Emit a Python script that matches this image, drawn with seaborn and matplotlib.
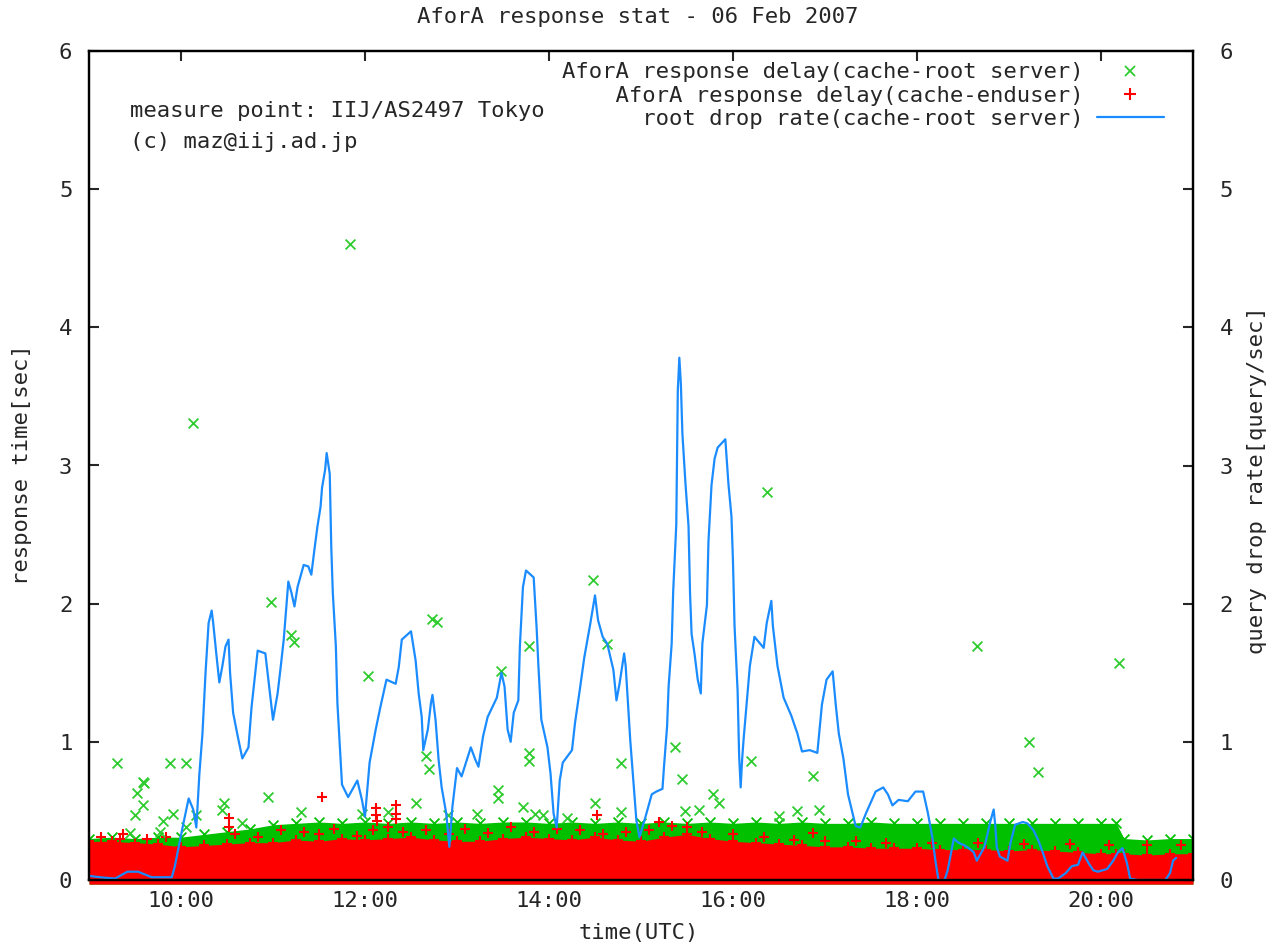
import numpy as np
import pandas as pd
import matplotlib
matplotlib.use("Agg")
import matplotlib.pyplot as plt
import matplotlib.dates as mdates
from matplotlib.lines import Line2D
import seaborn as sns

# ---------------- data (minutes after 09:00 UTC, 06 Feb 2007) ----------------
BASE = pd.Timestamp("2007-02-06 09:00")

# root drop rate (cache-root server) [query/sec]
drop_min = [0, 7, 17, 25, 32, 41, 54, 56, 61, 65, 68, 70, 72, 74, 76, 78, 80, 81, 83, 85,
            87, 89, 91, 92, 94, 97, 100, 104, 106, 110, 115, 117, 120, 123, 125, 127, 130,
            132, 134, 136, 140, 143, 145, 147, 149, 151, 152, 154, 155, 157, 158, 159, 161,
            162, 164, 165, 169, 172, 175, 178, 180, 183, 187, 190, 192, 194, 200, 202, 204,
            210, 213, 215, 217, 218, 221, 223, 224, 226, 228, 230, 233, 235, 237, 240, 243,
            249, 252, 254, 257, 260, 266, 269, 271, 273, 275, 277, 280, 281, 283, 285, 290,
            292, 293, 295, 299, 301, 303, 305, 307, 309, 315, 317, 320, 323, 327, 330, 332,
            335, 338, 342, 344, 346, 349, 350, 353, 355, 357, 359, 363, 367, 370, 374, 375,
            377, 378, 380, 381, 383, 384, 385, 386, 387, 389, 391, 392, 393, 395, 397, 399,
            400, 403, 404, 406, 408, 410, 415, 417, 419, 420, 421, 423, 424, 425, 426, 427,
            429, 431, 434, 440, 442, 445, 446, 449, 453, 458, 462, 465, 470, 475, 478, 481,
            485, 487, 489, 492, 495, 500, 503, 507, 513, 518, 521, 524, 528, 534, 539, 544,
            547, 550, 552, 554, 558, 560, 563, 564, 567, 571, 575, 577, 579, 581, 584, 588,
            590, 591, 592, 594, 599, 601, 604, 609, 612, 616, 619, 622, 625, 629, 632, 637,
            641, 645, 648, 652, 655, 658, 664, 668, 671, 674, 677, 679, 684, 702, 705, 707, 709]
drop_rate = [0.03, 0.02, 0.01, 0.06, 0.06, 0.02, 0.02, 0.10, 0.38, 0.59, 0.51, 0.38, 0.77, 1.06,
             1.50, 1.86, 1.95, 1.86, 1.64, 1.43, 1.55, 1.69, 1.74, 1.50, 1.21, 1.04, 0.88, 0.96,
             1.25, 1.66, 1.64, 1.45, 1.16, 1.35, 1.54, 1.74, 2.16, 2.08, 1.98, 2.12, 2.28, 2.27,
             2.21, 2.39, 2.56, 2.70, 2.84, 2.97, 3.09, 2.94, 2.41, 2.08, 1.69, 1.28, 0.89, 0.69,
             0.60, 0.66, 0.72, 0.58, 0.46, 0.85, 1.09, 1.25, 1.35, 1.45, 1.42, 1.54, 1.74, 1.80,
             1.59, 1.35, 1.18, 0.94, 1.09, 1.28, 1.34, 1.16, 0.87, 0.67, 0.48, 0.24, 0.53, 0.81,
             0.75, 0.96, 0.87, 0.82, 1.04, 1.18, 1.32, 1.50, 1.40, 1.09, 1.00, 1.21, 1.30, 1.69,
             2.12, 2.24, 2.19, 1.81, 1.57, 1.16, 0.96, 0.77, 0.48, 0.38, 0.72, 0.85, 0.94, 1.14,
             1.37, 1.61, 1.86, 2.06, 1.88, 1.76, 1.71, 1.52, 1.30, 1.42, 1.64, 1.55, 1.01, 0.72,
             0.43, 0.31, 0.46, 0.62, 0.64, 0.66, 0.82, 1.11, 1.40, 1.71, 2.09, 2.57, 3.54, 3.78,
             3.59, 3.23, 2.87, 2.56, 2.07, 1.78, 1.63, 1.45, 1.35, 1.71, 1.99, 2.45, 2.86, 3.05,
             3.13, 3.19, 2.87, 2.63, 2.30, 1.84, 1.37, 0.90, 0.67, 0.88, 1.03, 1.29, 1.55, 1.76,
             1.68, 1.86, 2.02, 1.84, 1.55, 1.32, 1.19, 1.06, 0.93, 0.94, 0.92, 1.27, 1.45, 1.51,
             1.27, 1.06, 0.88, 0.62, 0.39, 0.38, 0.49, 0.64, 0.67, 0.62, 0.54, 0.58, 0.57, 0.64,
             0.64, 0.49, 0.31, 0.14, 0.00, 0.00, 0.07, 0.24, 0.30, 0.27, 0.25, 0.22, 0.20, 0.14,
             0.18, 0.24, 0.43, 0.51, 0.40, 0.24, 0.17, 0.14, 0.27, 0.40, 0.42, 0.41, 0.36, 0.29,
             0.20, 0.10, 0.01, 0.01, 0.05, 0.10, 0.11, 0.20, 0.12, 0.07, 0.06, 0.08, 0.14, 0.20,
             0.23, 0.12, 0.01, 0.00, 0.00, 0.05, 0.14, 0.16]

# upper edge of the dense band of response delays [sec]
band_min = [0, 15, 30, 45, 60, 75, 90, 105, 120, 135, 150, 165, 180, 195, 210, 225, 240, 255,
            270, 285, 300, 315, 330, 345, 360, 375, 390, 405, 420, 435, 450, 465, 480, 495,
            510, 525, 540, 555, 570, 585, 600, 615, 630, 645, 660, 670, 675, 690, 705, 720]
root_band = [0.30, 0.31, 0.30, 0.31, 0.31, 0.33, 0.35, 0.37, 0.40, 0.41, 0.42, 0.41, 0.42,
             0.41, 0.42, 0.41, 0.42, 0.41, 0.42, 0.42, 0.41, 0.42, 0.41, 0.42, 0.41, 0.42,
             0.41, 0.42, 0.41, 0.42, 0.41, 0.42, 0.41, 0.41, 0.42, 0.41, 0.41, 0.41, 0.41,
             0.41, 0.41, 0.41, 0.41, 0.41, 0.41, 0.41, 0.30, 0.29, 0.30, 0.30]
user_band = [0.28, 0.28, 0.27, 0.26, 0.24, 0.25, 0.26, 0.27, 0.27, 0.29, 0.28, 0.30, 0.29,
             0.30, 0.31, 0.29, 0.28, 0.28, 0.30, 0.31, 0.30, 0.29, 0.31, 0.29, 0.28, 0.31,
             0.33, 0.30, 0.28, 0.27, 0.26, 0.25, 0.24, 0.24, 0.23, 0.23, 0.23, 0.22, 0.22,
             0.22, 0.21, 0.22, 0.21, 0.20, 0.19, 0.19, 0.19, 0.18, 0.19, 0.19]

# scattered end-user answers just above the solid red band [sec]
user_edge_min = [8, 22, 38, 50, 95, 110, 125, 140, 150, 160, 175, 185, 195, 205, 220, 235,
                 245, 260, 275, 290, 305, 320, 335, 350, 365, 380, 390, 400, 420, 440, 460,
                 480, 500, 520, 550, 580, 610, 640, 665, 690, 712]
user_edge_val = [0.31, 0.33, 0.30, 0.31, 0.33, 0.31, 0.36, 0.35, 0.33, 0.37, 0.32, 0.36, 0.38,
                 0.35, 0.36, 0.33, 0.37, 0.34, 0.38, 0.35, 0.37, 0.36, 0.33, 0.35, 0.36, 0.39,
                 0.38, 0.35, 0.33, 0.31, 0.29, 0.28, 0.28, 0.27, 0.27, 0.27, 0.26, 0.26, 0.25,
                 0.25, 0.25]

# isolated slow answers, cache -> root server [sec]
root_out_min = [18, 27, 30, 31, 35, 35, 36, 46, 48, 53, 55, 63, 63, 68, 70, 87, 88, 100, 117,
                119, 132, 134, 138, 170, 178, 182, 195, 213, 220, 222, 224, 227, 234, 253, 267,
                267, 269, 283, 287, 287, 287, 291, 296, 312, 329, 330, 338, 347, 347, 382, 387,
                389, 398, 407, 411, 432, 442, 450, 462, 472, 476, 579, 613, 619, 672]
root_out_val = [0.85, 0.34, 0.47, 0.63, 0.54, 0.71, 0.70, 0.35, 0.43, 0.85, 0.48, 0.85, 0.38,
                3.31, 0.47, 0.51, 0.56, 0.41, 0.60, 2.01, 1.77, 1.72, 0.49, 4.60, 0.48, 1.48,
                0.49, 0.56, 0.90, 0.80, 1.89, 1.87, 0.47, 0.48, 0.65, 0.59, 1.51, 0.53, 0.92,
                0.86, 1.69, 0.48, 0.47, 0.45, 2.17, 0.56, 1.71, 0.85, 0.49, 0.96, 0.73, 0.50,
                0.51, 0.62, 0.56, 0.86, 2.81, 0.46, 0.50, 0.75, 0.51, 1.69, 1.00, 0.78, 1.57]

# isolated slow answers, cache -> end user [sec]
user_out_min = [20, 91, 91, 152, 187, 187, 188, 200, 200, 200, 331, 372, 472]
user_out_val = [0.30, 0.45, 0.38, 0.60, 0.52, 0.47, 0.43, 0.54, 0.48, 0.44, 0.47, 0.42, 0.34]

TITLE = "AforA response stat - 06 Feb 2007"
LABELS = ["AforA response delay(cache-root server)",
          "AforA response delay(cache-enduser)",
          "root drop rate(cache-root server)"]
NOTES = ["measure point: IIJ/AS2497 Tokyo", "(c) maz@iij.ad.jp"]

# ---------------- styling ----------------
GREEN = "#00c000"
GREEN_PT = "#2ecc2e"
RED = "#ff0000"
BLUE = "#1a8cff"
FS = 16

sns.set_style("white")
plt.rcParams["font.family"] = ["DejaVu Sans Mono", "DejaVu Sans"]
plt.rcParams["font.size"] = FS

def t(mins):
    return BASE + pd.to_timedelta(np.asarray(mins, dtype=float), unit="min")

fig = plt.figure(figsize=(12.7, 9.46), dpi=100)
W, H = 1270, 946
L, R, T, B = 89, 1193, 51, 880
ax = fig.add_axes([L / W, 1 - B / H, (R - L) / W, (B - T) / H])

# dense bands
bt = t(band_min)
ax.fill_between(bt, -0.03, root_band, color=GREEN, lw=0, clip_on=False, zorder=1)
sns.scatterplot(x=bt, y=root_band, marker="x", color=GREEN, s=50, linewidth=1.3, ax=ax, zorder=1.5)
ax.fill_between(bt, -0.03, user_band, color=RED, lw=0, clip_on=False, zorder=2)
sns.scatterplot(x=bt, y=user_band, marker="+", color=RED, s=60, linewidth=1.5, ax=ax, zorder=2.5)
sns.scatterplot(x=t(user_edge_min), y=user_edge_val, marker="+", color=RED, s=60,
                linewidth=1.5, ax=ax, zorder=2.5)

# outliers
sns.scatterplot(x=t(root_out_min), y=root_out_val, marker="x", color=GREEN_PT, s=50,
                linewidth=1.3, ax=ax, zorder=3)
sns.scatterplot(x=t(user_out_min), y=user_out_val, marker="+", color=RED, s=60,
                linewidth=1.5, ax=ax, zorder=3)

ax.set_ylim(0, 6)
ax.set_xlim(BASE, BASE + pd.Timedelta(hours=12))

ax2 = ax.twinx()
sns.lineplot(x=t(drop_min), y=drop_rate, color=BLUE, lw=1.6, ax=ax2)
ax2.set_ylim(0, 6)
ax2.set_xlim(BASE, BASE + pd.Timedelta(hours=12))

ax.xaxis.set_major_locator(mdates.HourLocator(byhour=[10, 12, 14, 16, 18, 20]))
ax.xaxis.set_major_formatter(mdates.DateFormatter("%H:%M"))
ax.set_yticks(range(0, 7))
ax2.set_yticks(range(0, 7))

for a in (ax, ax2):
    for sp in a.spines.values():
        sp.set_linewidth(1.6)
        sp.set_color("black")
        sp.set_visible(True)
    a.set_xlabel("")
    a.set_ylabel("")

ax.tick_params(axis="x", direction="in", length=7, width=1.5, top=True, bottom=True,
               pad=8, labelsize=FS)
ax.tick_params(axis="y", direction="in", length=7, width=1.5, left=True, right=False,
               pad=12, labelsize=FS)
ax2.tick_params(axis="y", direction="in", length=7, width=1.5, right=True, left=False,
                pad=19, labelsize=FS)

# texts
fig.text(638 / W, 1 - 17 / H, TITLE, ha="center", va="center", fontsize=FS)
fig.text(639 / W, 1 - 933 / H, "time(UTC)", ha="center", va="center", fontsize=FS)
fig.text(22 / W, 1 - 465 / H, "response time[sec]", rotation=90, ha="center", va="center",
         fontsize=FS)
fig.text(1257 / W, 1 - 480 / H, "query drop rate[query/sec]", rotation=90, ha="center",
         va="center", fontsize=FS)
ax2.text((130 - L) / (R - L), (B - 111) / (B - T), NOTES[0], transform=ax2.transAxes,
         ha="left", va="center", fontsize=FS)
ax2.text((130 - L) / (R - L), (B - 142) / (B - T), NOTES[1], transform=ax2.transAxes,
         ha="left", va="center", fontsize=FS)

# legend (text right aligned, symbol on the right)
n = max(len(s) for s in LABELS)
labels = [s.rjust(n) for s in LABELS]
handles = [Line2D([], [], ls="none", marker="x", color=GREEN_PT, markersize=7, mew=1.3),
           Line2D([], [], ls="none", marker="+", color=RED, markersize=8, mew=1.5),
           Line2D([], [], color=BLUE, lw=1.6)]
leg = ax2.legend(handles, labels, loc="upper right", frameon=False, markerfirst=False,
                 handlelength=3.0, handletextpad=0.6, labelspacing=0.14, borderpad=0.2,
                 borderaxespad=0.0, bbox_to_anchor=((1168 - L) / (R - L), (B - 58) / (B - T)),
                 fontsize=FS)

fig.savefig("out.png", dpi=100, facecolor="white")
